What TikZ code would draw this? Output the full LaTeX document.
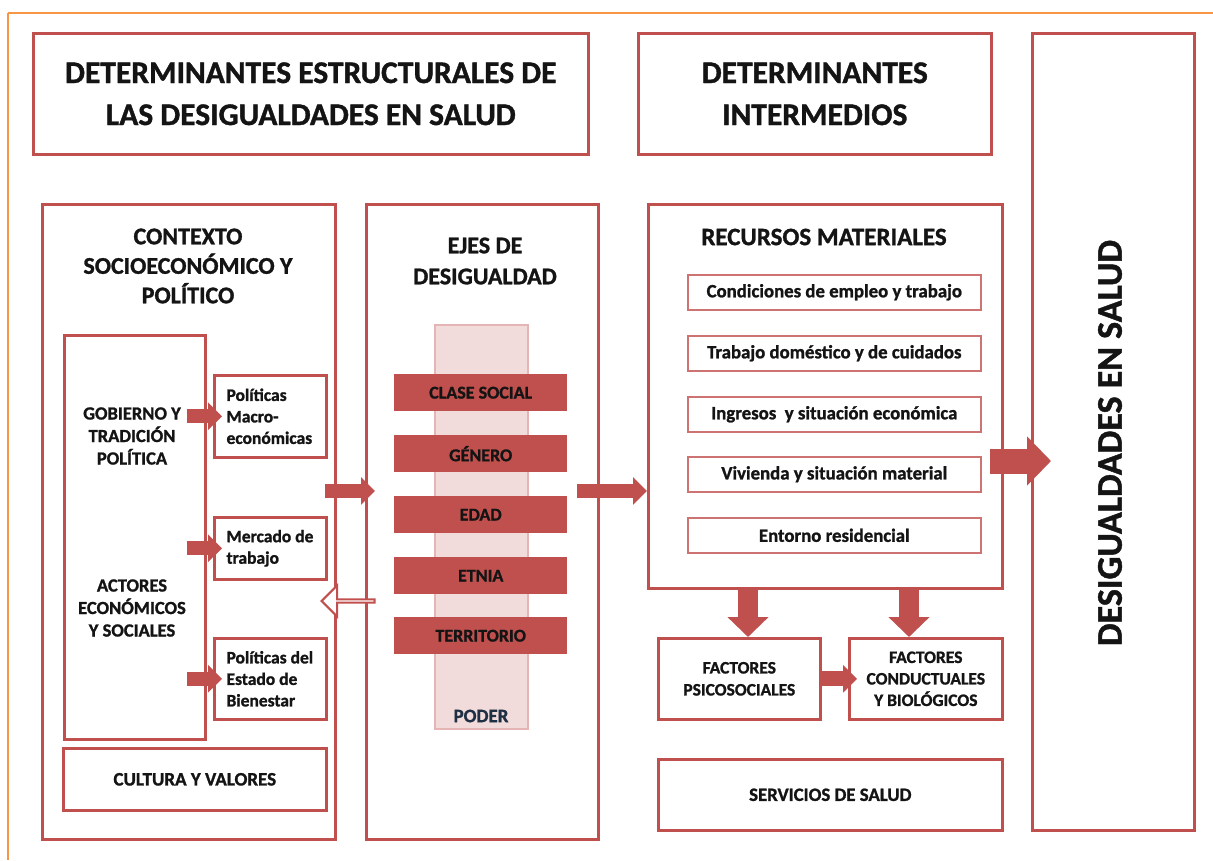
\documentclass[tikz,border=0pt]{standalone}
\usepackage{fontspec}
\setmainfont{Carlito}[BoldFeatures={FakeBold=1.2}]
\usetikzlibrary{arrows.meta,shapes.arrows,calc}
\definecolor{rojo}{HTML}{C0504D}
\definecolor{rojoclaro}{HTML}{D99694}
\definecolor{rosa}{HTML}{F2DCDB}
\definecolor{naranja}{HTML}{F79646}
\definecolor{tinta}{HTML}{141414}
\definecolor{azulosc}{HTML}{1F3045}
\tikzset{
  box/.style={draw=rojo, line width=2.6pt, fill=white, anchor=north west, inner sep=0pt},
  thinbox/.style={draw=rojo!80, line width=1.6pt, fill=white, anchor=north west, inner sep=0pt},
  bar/.style={fill=rojo, draw=none, anchor=north west, minimum width=173pt, minimum height=37pt, inner sep=0pt, text=tinta, font=\fontsize{18}{20}\selectfont\bfseries},
  ttl/.style={align=center, text=tinta, font=\bfseries},
  lbl/.style={text=tinta, font=\fontsize{17.5}{21.5}\selectfont\bfseries},
  fatarrow/.style={draw=rojo, line width=14pt, -{Triangle[length=14pt,width=27pt]}},
  bigarrow/.style={draw=rojo, line width=25pt, -{Triangle[length=24pt,width=48pt]}},
  downarrow/.style={draw=rojo, line width=20pt, -{Triangle[length=20pt,width=40pt]}},
}
\begin{document}
\begin{tikzpicture}[x=1pt,y=-1pt]
\useasboundingbox (0,0) rectangle (1213,860);
% orange frame lines
\draw[naranja, line width=2pt] (8,13) -- (1213,13);
\draw[naranja, line width=2pt] (8,13) -- (8,860);

% top title boxes
\node[box, minimum width=555pt, minimum height=121pt] (tit1) at (32,32) {};
\node[ttl, font=\fontsize{31.5}{42}\selectfont\bfseries] (tit1t) at (tit1.center) {DETERMINANTES ESTRUCTURALES DE\\LAS DESIGUALDADES EN SALUD};
\node[box, minimum width=353pt, minimum height=121pt] (tit2) at (637,32) {};
\node[ttl, font=\fontsize{31.5}{42}\selectfont\bfseries] (tit2t) at (tit2.center) {DETERMINANTES\\INTERMEDIOS};

% right tall box
\node[box, minimum width=162pt, minimum height=797pt] (des) at (1031,32) {};
\node[ttl, rotate=90, font=\fontsize{36}{40}\selectfont\bfseries] (dest) at (1110,443) {DESIGUALDADES EN SALUD};

% contexto
\node[box, minimum width=293pt, minimum height=635pt] (ctx) at (41,203) {};
\node[ttl, font=\fontsize{24}{29.5}\selectfont\bfseries] (ctxt) at (188,266) {CONTEXTO\\SOCIOECONÓMICO Y\\POLÍTICO};
\node[box, minimum width=141pt, minimum height=404pt] (gob) at (63,334) {};
\node[ttl, font=\fontsize{18.5}{22.5}\selectfont\bfseries] (gobt) at (132,436) {GOBIERNO Y\\TRADICIÓN\\POLÍTICA};
\node[ttl, font=\fontsize{18.5}{22.5}\selectfont\bfseries] (actt) at (132,608) {ACTORES\\ECONÓMICOS\\Y SOCIALES};
\node[box, minimum width=112pt, minimum height=82pt] (macro) at (213,374) {};
\node[lbl, align=left, anchor=west] (macrot) at ([xshift=10pt]macro.west) {Políticas\\Macro-\\económicas};
\node[box, minimum width=112pt, minimum height=62pt] (merc) at (213,516) {};
\node[lbl, align=left, anchor=west] (merct) at ([xshift=10pt]merc.west) {Mercado de\\trabajo};
\node[box, minimum width=112pt, minimum height=81pt] (estado) at (213,637) {};
\node[lbl, align=left, anchor=west] (estadot) at ([xshift=10pt]estado.west) {Políticas del\\Estado de\\Bienestar};
\node[box, minimum width=263pt, minimum height=62pt] (cult) at (62,747) {};
\node[ttl, font=\fontsize{19}{22}\selectfont\bfseries] (cultt) at (cult.center) {CULTURA Y VALORES};

\draw[fatarrow] ([xshift=-20pt]gob.east |- macro.west) -- ([xshift=9pt]macro.west);
\draw[fatarrow] ([xshift=-20pt]gob.east |- merc.west) -- ([xshift=9pt]merc.west);
\draw[fatarrow] ([xshift=-20pt]gob.east |- estado.west) -- ([xshift=9pt]estado.west);

% ejes
\node[box, minimum width=232pt, minimum height=635pt] (ejes) at (365,203) {};
\node[ttl, font=\fontsize{24}{31}\selectfont\bfseries] (ejest) at (485,261) {EJES DE\\DESIGUALDAD};
\node[fill=rosa, draw=rojoclaro!70, line width=1.5pt, anchor=north west, minimum width=93pt, minimum height=404pt, inner sep=0pt] (poder) at (434,324) {};
\node[text=azulosc, font=\fontsize{19}{22}\selectfont\bfseries] (podert) at (481,716) {PODER};
\node[bar] (clase) at (394,374) {CLASE SOCIAL};
\node[bar] (genero) at (394,435) {GÉNERO};
\node[bar] (edad) at (394,496) {EDAD};
\node[bar] (etnia) at (394,557) {ETNIA};
\node[bar] (terr) at (394,617) {TERRITORIO};

% arrows between columns
\coordinate (a1s) at (325,491);
\draw[fatarrow] (a1s) -- ([xshift=10pt]ejes.west |- a1s);
\coordinate (a2s) at (577,491);
\draw[fatarrow] (a2s) -- ([xshift=0pt]647,491) coordinate (a2e);
\node[single arrow, draw=rojo, fill=white, line width=2pt, shape border rotate=180, minimum width=31pt, minimum height=53pt, single arrow head extend=8pt, single arrow tip angle=90, inner sep=0pt] (hollow) at (349,601) {};

% recursos
\node[box, minimum width=354pt, minimum height=384pt] (rec) at (647,203) {};
\node[ttl, font=\fontsize{25}{28}\selectfont\bfseries] (rect) at (824,237) {RECURSOS MATERIALES};
\tikzset{rb/.style={thinbox, minimum width=293pt, minimum height=35pt, text=tinta, font=\fontsize{18.8}{21}\selectfont\bfseries}}
\node[rb] (r1) at (687,274) {Condiciones de empleo y trabajo};
\node[rb] (r2) at (687,335) {Trabajo doméstico y de cuidados};
\node[rb] (r3) at (687,396) {Ingresos \ y situación económica};
\node[rb] (r4) at (687,456) {Vivienda y situación material};
\node[rb] (r5) at (687,517) {Entorno residencial};

\draw[bigarrow] (990,461) coordinate (a3s) -- (1051,461) coordinate (a3e);

% factores
\node[box, minimum width=162pt, minimum height=81pt] (psico) at (657,637) {};
\node[ttl, font=\fontsize{17.5}{22}\selectfont\bfseries] (psicot) at (psico.center) {FACTORES\\PSICOSOCIALES};
\node[box, minimum width=153pt, minimum height=81pt] (cond) at (848,637) {};
\node[ttl, font=\fontsize{17.5}{21.5}\selectfont\bfseries] (condt) at (cond.center) {FACTORES\\CONDUCTUALES\\Y BIOLÓGICOS};
\node[box, minimum width=344pt, minimum height=71pt] (serv) at (657,758) {};
\node[ttl, font=\fontsize{18.8}{22}\selectfont\bfseries] (servt) at (serv.center) {SERVICIOS DE SALUD};

\draw[downarrow] (748,587) -- (psico.north -| 748,0);
\draw[downarrow] (909,587) -- (cond.north -| 909,0);
\draw[fatarrow, line width=15pt] (psico.east) -- ([xshift=9pt]cond.west);
\end{tikzpicture}
\end{document}
